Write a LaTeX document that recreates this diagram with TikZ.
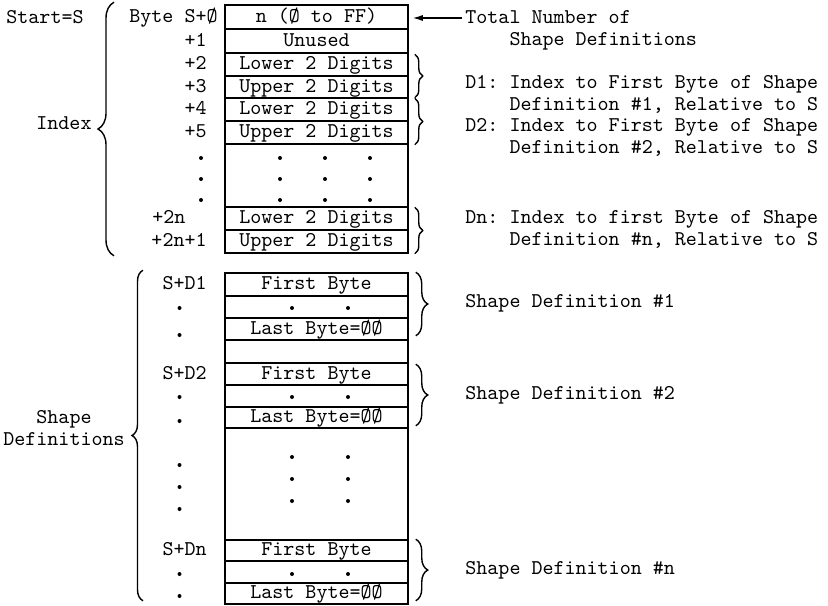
\documentclass[tikz,border=0pt]{standalone}
\usepackage{amsmath}
\usetikzlibrary{arrows.meta,calc,positioning}
\usetikzlibrary{decorations.pathreplacing}

\newcommand{\tabin}{\hphantom{D1: }}
\frenchspacing

\begin{document}
\begin{tikzpicture}[x=.5pt,y=-.5pt,
every node/.style={inner sep=0pt,font=\fontsize{10.5}{11}\selectfont\ttfamily\frenchspacing},
cell/.style={draw,line width=.75pt,minimum width=91.5pt,text height=7.5pt,text depth=2.5pt},
lbl/.style={anchor=east,text height=7.5pt,text depth=2.5pt},
txt/.style={anchor=west,align=left},
brc/.style={decorate,line width=.7pt,decoration={brace,amplitude=#1}}]
\useasboundingbox (0,0) rectangle (828,605);
\node[cell,minimum height=12pt] (t0) at (316.5,17) {n (Ø to FF)};
\node[cell,minimum height=12pt] (t1) at (316.5,41) {Unused};
\node[cell,minimum height=11.5pt] (t2) at (316.5,64.5) {Lower 2 Digits};
\node[cell,minimum height=11pt] (t3) at (316.5,87) {Upper 2 Digits};
\node[cell,minimum height=11.5pt] (t4) at (316.5,109.5) {Lower 2 Digits};
\node[cell,minimum height=11.5pt] (t5) at (316.5,132.5) {Upper 2 Digits};
\node[cell,minimum height=31.5pt] (t6) at (316.5,175.5) {};
\node[cell,minimum height=11.5pt] (t7) at (316.5,218.5) {Lower 2 Digits};
\node[cell,minimum height=11.5pt] (t8) at (316.5,241.5) {Upper 2 Digits};
\node[cell,minimum height=11.5pt] (s0) at (316.5,284.5) {First Byte};
\node[cell,minimum height=11pt] (s1) at (316.5,307) {};
\node[cell,minimum height=11pt] (s2) at (316.5,329) {Last Byte=ØØ};
\node[cell,minimum height=11.5pt] (s3) at (316.5,351.5) {};
\node[cell,minimum height=11pt] (s4) at (316.5,374) {First Byte};
\node[cell,minimum height=11pt] (s5) at (316.5,396) {};
\node[cell,minimum height=10.5pt] (s6) at (316.5,417.5) {Last Byte=ØØ};
\node[cell,minimum height=56pt] (s7) at (316.5,484) {};
\node[cell,minimum height=10.5pt] (s8) at (316.5,550.5) {First Byte};
\node[cell,minimum height=11pt] (s9) at (316.5,572) {};
\node[cell,minimum height=10.5pt] (s10) at (316.5,593.5) {Last Byte=ØØ};
\node[lbl] (b0) at (218,17) {Byte S+Ø};
\node[lbl] (b1) at (207,41) {+1};
\node[lbl] (b2) at (207,64.5) {+2};
\node[lbl] (b3) at (207,87) {+3};
\node[lbl] (b4) at (207,109.5) {+4};
\node[lbl] (b5) at (207,132.5) {+5};
\node[lbl,anchor=west] (b7) at (152,218.5) {+2n};
\node[lbl] (b8) at (207,241.5) {+2n+1};
\node[lbl] (a0) at (207,284.5) {S+D1};
\node[lbl] (a4) at (207,374) {S+D2};
\node[lbl] (a8) at (207,550.5) {S+Dn};
\node[anchor=west] (start) at (6,17) {Start=S};
\node[anchor=west] (idx) at (36,123) {Index};
\node[align=center] (shp) at (64,428) {Shape\\Definitions};
\node[txt] (tot) at (465,30) {Total Number of\\\tabin Shape Definitions};
\node[txt] (d1) at (465,94) {D1: Index to First Byte of Shape\\\tabin Definition \#1, Relative to S};
\node[txt] (d2) at (465,137.5) {D2: Index to First Byte of Shape\\\tabin Definition \#2, Relative to S};
\node[txt] (dn) at (465,229.5) {Dn: Index to first Byte of Shape\\\tabin Definition \#n, Relative to S};
\node[lbl,anchor=west] (sd1) at (465,302) {Shape Definition \#1};
\node[lbl,anchor=west] (sd2) at (465,394) {Shape Definition \#2};
\node[lbl,anchor=west] (sdn) at (465,569) {Shape Definition \#n};
\coordinate (tarr) at (462,18);
\coordinate (ibx) at (114,0);
\coordinate (sbx) at (143,0);
\draw[-{Latex[length=5pt,width=3pt]},line width=.6pt,shorten >=2pt] (tarr) -- (tarr -| t0.east);
\draw[brc=8pt] ([yshift=-1pt]t8.south -| ibx) -- ([yshift=1pt]t0.north -| ibx);
\draw[brc=5.5pt] ([yshift=2pt]s10.south -| sbx) -- ([yshift=1pt]s0.north -| sbx);
\draw[brc=4pt] ([xshift=3pt,yshift=-1pt]t2.north east) -- ([xshift=3pt,yshift=.5pt]t3.south east);
\draw[brc=4pt] ([xshift=3pt,yshift=-.5pt]t4.north east) -- ([xshift=3pt]t5.south east);
\draw[brc=4pt] ([xshift=3pt,yshift=-.5pt]t7.north east) -- ([xshift=3pt]t8.south east);
\draw[brc=6pt] ([xshift=3.5pt]s0.north east) -- ([xshift=3.5pt,yshift=2.5pt]s2.south east);
\draw[brc=6pt] ([xshift=3.5pt,yshift=-1pt]s4.north east) -- ([xshift=3.5pt,yshift=1.5pt]s6.south east);
\draw[brc=6pt] ([xshift=3.5pt]s8.north east) -- ([xshift=3.5pt,yshift=2pt]s10.south east);
\fill (280,158) circle[radius=1pt] (325,158) circle[radius=1pt] (370,158) circle[radius=1pt]
      (280,179) circle[radius=1pt] (325,179) circle[radius=1pt] (370,179) circle[radius=1pt]
      (280,200) circle[radius=1pt] (325,200) circle[radius=1pt] (370,200) circle[radius=1pt];
\fill (201,158) circle[radius=1pt] (201,179) circle[radius=1pt] (201,200) circle[radius=1pt];
\fill (292,308) circle[radius=1pt] (348,308) circle[radius=1pt]
      (292,397) circle[radius=1pt] (348,397) circle[radius=1pt]
      (292,574) circle[radius=1pt] (348,574) circle[radius=1pt];
\fill (292,457) circle[radius=1pt] (348,457) circle[radius=1pt]
      (292,479) circle[radius=1pt] (348,479) circle[radius=1pt]
      (292,501) circle[radius=1pt] (348,501) circle[radius=1pt];
\fill (179.5,308) circle[radius=1pt] (179.5,335) circle[radius=1pt]
      (179.5,397) circle[radius=1pt] (179.5,421) circle[radius=1pt]
      (179.5,465) circle[radius=1pt] (179.5,487) circle[radius=1pt] (179.5,509) circle[radius=1pt]
      (179.5,574) circle[radius=1pt] (179.5,596) circle[radius=1pt];
\end{tikzpicture}
\end{document}
